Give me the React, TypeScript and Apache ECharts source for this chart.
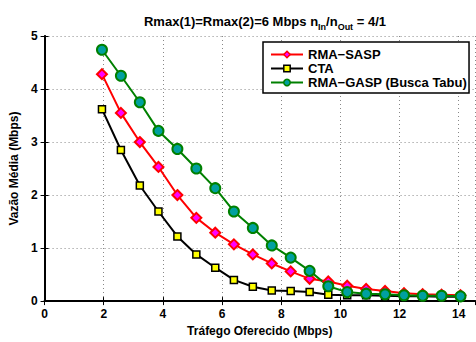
import React, { useEffect, useRef } from "react";
import * as echarts from "echarts";

const xValues = [1.94, 2.58, 3.22, 3.85, 4.49, 5.13, 5.77, 6.4, 7.04, 7.68, 8.32, 8.96, 9.59, 10.23, 10.87, 11.51, 12.15, 12.78, 13.42, 14.06];
const rmaSasp = [4.28, 3.55, 3.0, 2.53, 2.0, 1.57, 1.29, 1.07, 0.88, 0.71, 0.56, 0.42, 0.37, 0.29, 0.23, 0.19, 0.15, 0.13, 0.12, 0.11];
const cta = [3.62, 2.85, 2.18, 1.69, 1.22, 0.88, 0.63, 0.4, 0.27, 0.2, 0.19, 0.17, 0.12, 0.11, 0.11, 0.1, 0.09, 0.09, 0.08, 0.08];
const rmaGasp = [4.74, 4.25, 3.75, 3.21, 2.87, 2.5, 2.13, 1.69, 1.38, 1.05, 0.82, 0.57, 0.28, 0.17, 0.14, 0.13, 0.11, 0.1, 0.1, 0.09];
const seriesNames = ["RMA\u2212SASP", "CTA", "RMA\u2212GASP (Busca Tabu)"];

const FONT = "'Liberation Sans', Arial, sans-serif";

export default function App() {
  const ref = useRef<HTMLDivElement>(null);
  useEffect(() => {
    if (!ref.current) return;
    const chart = echarts.init(ref.current, null, { renderer: "svg" });
    const pairs = (ys: number[]) => xValues.map((x, i) => [x, ys[i]]);
    const axisBase = {
      type: "value" as const,
      axisLine: { show: true, lineStyle: { color: "#000", width: 2 } },
      axisTick: { show: true, inside: true, length: 4, lineStyle: { color: "#000", width: 1 } },
    };
    chart.setOption({
      animation: false,
      backgroundColor: "#fff",
      textStyle: { fontFamily: FONT },
      title: {
        text: "Rmax(1)=Rmax(2)=6 Mbps n{sub|In}/n{sub|Out} = 4/1",
        left: 260,
        top: 7,
        textAlign: "center",
        textStyle: {
          fontFamily: FONT,
          fontSize: 13,
          fontWeight: "bold",
          color: "#000",
          rich: {
            sub: { fontFamily: FONT, fontSize: 9, fontWeight: "bold", color: "#000", padding: [10, 0, 0, 0] },
          },
        },
      },
      grid: { left: 43.5, right: 1, top: 36, bottom: 37, containLabel: false },
      legend: {
        left: 263,
        top: 42,
        orient: "vertical",
        backgroundColor: "#fff",
        borderColor: "#000",
        borderWidth: 1.5,
        borderRadius: 0,
        padding: [6, 2, 4, 7],
        itemGap: 1,
        itemWidth: 32,
        itemHeight: 8,
        itemStyle: { borderWidth: 1.5 },
        textStyle: { fontFamily: FONT, fontSize: 13, fontWeight: "bold", color: "#000" },
        data: seriesNames,
      },
      xAxis: [
        {
          ...axisBase,
          min: 0,
          max: 14.55,
          interval: 2,
          name: "Tr\u00e1fego Oferecido (Mbps)",
          nameLocation: "middle",
          nameGap: 21,
          nameTextStyle: { fontFamily: FONT, fontSize: 12, fontWeight: "bold", color: "#000" },
          axisLabel: {
            fontFamily: FONT, fontSize: 12, fontWeight: "bold", color: "#000", margin: 7,
            showMaxLabel: false,
            formatter: (v: number) => (v % 2 === 0 ? String(v) : ""),
          },
          splitLine: { show: true, lineStyle: { color: "#888", type: [1, 3], width: 1 } },
        },
        {
          ...axisBase,
          position: "top",
          min: 0,
          max: 14.55,
          interval: 2,
          axisLine: { show: true, lineStyle: { color: "#000", width: 1.5 } },
          axisLabel: { show: false },
          splitLine: { show: false },
        },
      ],
      yAxis: [
        {
          ...axisBase,
          min: 0,
          max: 5,
          interval: 1,
          name: "Vaz\u00e3o M\u00e9dia (Mbps)",
          nameLocation: "middle",
          nameGap: 13,
          nameTextStyle: { fontFamily: FONT, fontSize: 12, fontWeight: "bold", color: "#000" },
          axisLabel: { fontFamily: FONT, fontSize: 12, fontWeight: "bold", color: "#000", margin: 7 },
          splitLine: { show: true, lineStyle: { color: "#888", type: [1, 3], width: 1 } },
        },
        {
          ...axisBase,
          position: "right",
          min: 0,
          max: 5,
          interval: 1,
          axisLine: { show: true, lineStyle: { color: "#000", width: 1.5 } },
          axisLabel: { show: false },
          splitLine: { show: false },
        },
      ],
      series: [
        {
          name: seriesNames[0],
          type: "line",
          data: pairs(rmaSasp),
          symbol: "diamond",
          symbolSize: 10,
          lineStyle: { color: "#ff0000", width: 2 },
          itemStyle: { color: "#ff00ff", borderColor: "#ff0000", borderWidth: 2 },
          z: 3,
        },
        {
          name: seriesNames[1],
          type: "line",
          data: pairs(cta),
          symbol: "rect",
          symbolSize: 7,
          lineStyle: { color: "#000000", width: 2 },
          itemStyle: { color: "#ffff00", borderColor: "#000000", borderWidth: 1.5 },
          z: 3,
        },
        {
          name: seriesNames[2],
          type: "line",
          data: pairs(rmaGasp),
          symbol: "circle",
          symbolSize: 10,
          lineStyle: { color: "#008000", width: 2 },
          itemStyle: { color: "#00a0a0", borderColor: "#008000", borderWidth: 2 },
          z: 3,
        },
      ],
    });
    return () => chart.dispose();
  }, []);
  return <div ref={ref} style={{ position: "fixed", left: 0, top: 0, width: 476, height: 342 }} />;
}
